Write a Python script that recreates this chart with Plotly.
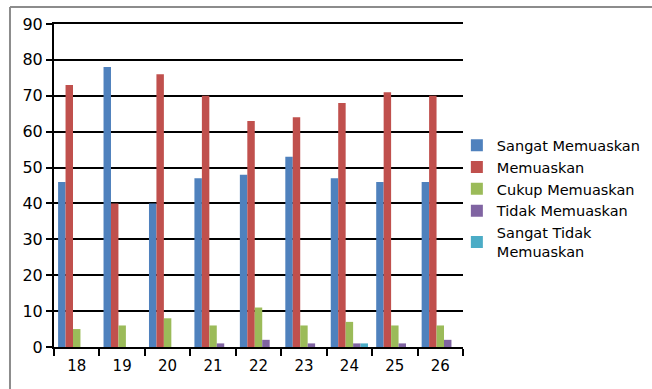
import plotly.graph_objects as go

# Survey responses per item number
items = ["18", "19", "20", "21", "22", "23", "24", "25", "26"]
sangat_memuaskan = [46, 78, 40, 47, 48, 53, 47, 46, 46]
memuaskan = [73, 40, 76, 70, 63, 64, 68, 71, 70]
cukup_memuaskan = [5, 6, 8, 6, 11, 6, 7, 6, 6]
tidak_memuaskan = [0, 0, 0, 1, 2, 1, 1, 1, 2]
sangat_tidak_memuaskan = [0, 0, 0, 0, 0, 0, 1, 0, 0]

series_names = ["Sangat Memuaskan", "Memuaskan", "Cukup Memuaskan",
                "Tidak Memuaskan", "Sangat Tidak<br>Memuaskan"]
series_values = [sangat_memuaskan, memuaskan, cukup_memuaskan,
                 tidak_memuaskan, sangat_tidak_memuaskan]
colors = ["#4F81BD", "#C0504D", "#9BBB59", "#8064A2", "#4BACC6"]

FONT = "DejaVu Sans"

fig = go.Figure()
for name, vals, col in zip(series_names, series_values, colors):
    fig.add_trace(go.Bar(
        x=items, y=vals, name=name,
        marker=dict(color=col, line=dict(width=0)),
    ))

# outer frame: top and left edges only
frame = dict(type="line", xref="paper", yref="paper",
             line=dict(color="#8C8C8C", width=2))
fig.add_shape(**frame, x0=-0.1076, x1=1.5, y0=1.0526, y1=1.0526)
fig.add_shape(**frame, x0=-0.1076, x1=-0.1076, y0=1.0526, y1=-0.2)

fig.update_layout(
    width=652, height=389,
    margin=dict(l=54, r=189, t=24, b=42, autoexpand=False),
    paper_bgcolor="white", plot_bgcolor="white",
    barmode="group", bargap=0.18, bargroupgap=0,
    font=dict(family=FONT, color="black"),
    legend=dict(
        x=0.985, y=0.459, xanchor="left", yanchor="middle",
        font=dict(family=FONT, size=14.5, color="black"),
        bgcolor="rgba(0,0,0,0)",
    ),
    xaxis=dict(
        type="category", showgrid=False,
        showline=True, linecolor="black", linewidth=2, mirror=True,
        ticks="outside", tickson="boundaries", ticklen=7,
        tickcolor="black", tickwidth=2,
        tickfont=dict(family=FONT, size=15),
        ticklabelstandoff=4,
    ),
    yaxis=dict(
        range=[0, 90], dtick=10,
        showgrid=True, gridcolor="black", gridwidth=2,
        showline=True, linecolor="black", linewidth=2,
        zeroline=False,
        ticks="outside", ticklen=6, tickcolor="black", tickwidth=2,
        tickfont=dict(family=FONT, size=16),
        ticklabelstandoff=0,
    ),
)

fig.write_html("out.html")
